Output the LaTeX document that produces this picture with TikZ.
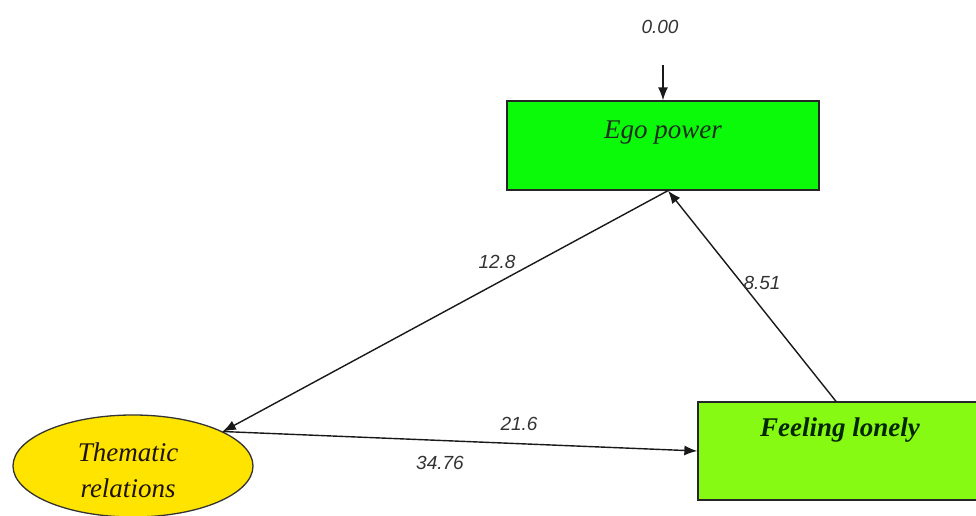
\documentclass[tikz,border=0pt]{standalone}
\usepackage{fontspec}
\setmainfont{Liberation Serif}
\newfontfamily\numfont{Liberation Sans}
\usetikzlibrary{arrows.meta,shapes.geometric,calc}
\definecolor{egogreen}{RGB}{10,250,10}
\definecolor{feelgreen}{RGB}{135,250,20}
\definecolor{themyellow}{RGB}{255,228,0}
\definecolor{txtdark}{RGB}{30,45,30}
\tikzset{
  conn/.style={line width=1.4pt, draw=black!90},
  tip/.style={-{Latex[length=13pt,width=10pt]}},
  numlbl/.style={font=\numfont\itshape\fontsize{19}{22}\selectfont, text=black!80, inner sep=1pt},
  boxtxt/.style={font=\itshape\fontsize{27}{30}\selectfont, text=txtdark, inner sep=0pt},
}
\begin{document}
\begin{tikzpicture}[x=1pt,y=1pt]
\useasboundingbox (0,0) rectangle (976,516);
\fill[white] (0,0) rectangle (976,516);
\begin{scope}
\clip (0,0) rectangle (976,516);
% Ego power
\node[draw=black!85, line width=1.3pt, fill=egogreen, minimum width=312pt, minimum height=89pt, inner sep=0pt] (ego) at (663,370.5) {};
\node[boxtxt] (egotxt) at (663,383) {Ego power};
% Feeling lonely
\node[draw=black!85, line width=1.3pt, fill=feelgreen, minimum width=280pt, minimum height=98pt, inner sep=0pt] (feel) at (838,65) {};
\node[boxtxt, font=\bfseries\itshape\fontsize{27}{30}\selectfont, text=black!75!green!60!black] (feeltxt) at (840,86) {Feeling lonely};
% Thematic relations
\node[ellipse, draw=black!80, line width=1.3pt, fill=themyellow, minimum width=240pt, minimum height=102pt, inner sep=0pt] (them) at (133,50) {};
\node[boxtxt, text=black!85!brown, align=center, font=\itshape\fontsize{27}{36}\selectfont] (themtxt) at (128,46) {Thematic\\relations};
\end{scope}
% error term
\node[numlbl] (err) at (660,489) {0.00};
\coordinate (errstart) at (663,451);
\draw[conn, tip] (errstart) -- (ego.north);
% connectors
\draw[conn, tip] ([xshift=5pt]ego.south) -- (them.21);
\draw[conn, tip] ([xshift=-2pt]feel.north) -- ([xshift=5pt]ego.south);
\draw[conn, tip] (them.21) -- (feel.west);
% labels
\node[numlbl] (l1) at (497,254) {12.8};
\node[numlbl] (l2) at (762,233) {8.51};
\node[numlbl] (l3) at (519,92) {21.6};
\node[numlbl] (l4) at (440,53) {34.76};
\end{tikzpicture}
\end{document}
